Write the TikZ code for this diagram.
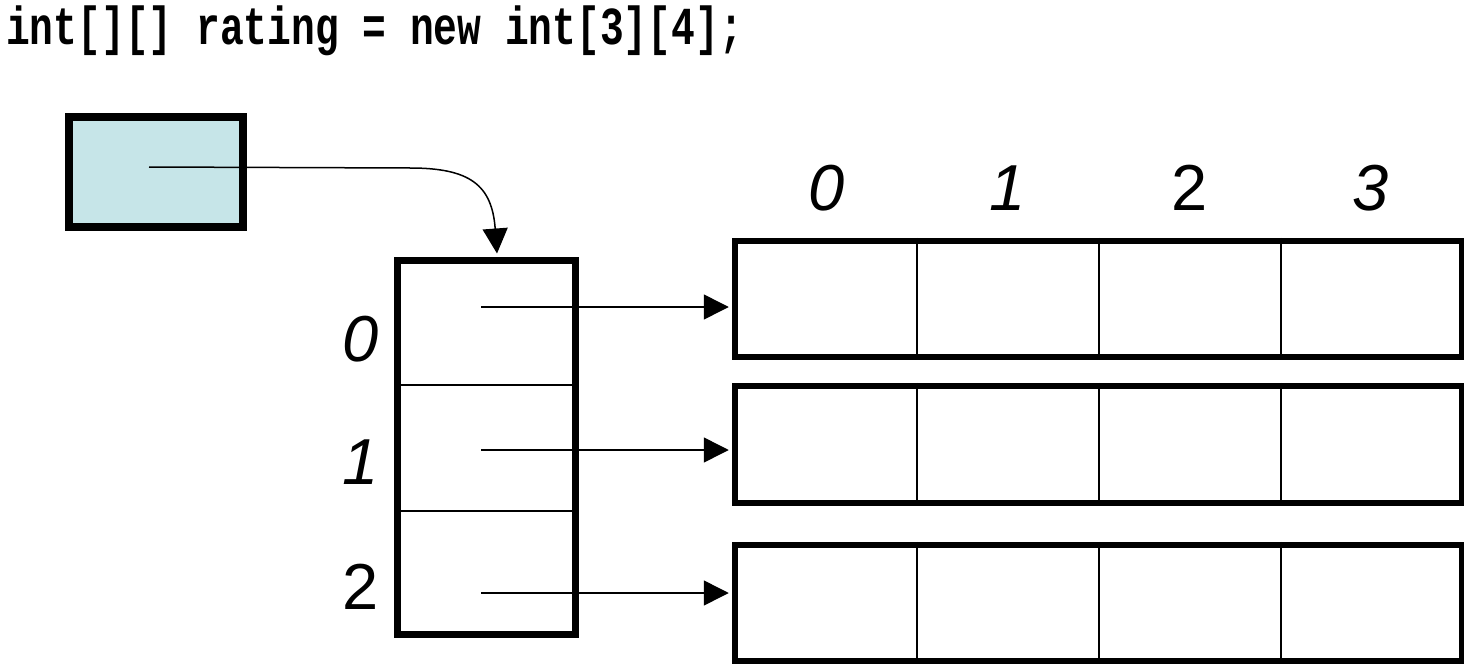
\documentclass[tikz,border=0pt]{standalone}
\usepackage{fontspec}
\newfontfamily\codefont{Liberation Mono}
\newfontfamily\lblfont{Liberation Sans}
\usetikzlibrary{arrows.meta}
\definecolor{ptrfill}{HTML}{C6E5E8}
\tikzset{
  ptrbox/.style={draw=black, line width=8pt, fill=ptrfill, inner sep=0pt, minimum width=174pt, minimum height=110pt},
  colbox/.style={draw=black, line width=7pt, fill=white, inner sep=0pt, minimum width=178pt, minimum height=374pt},
  rowbox/.style={draw=black, line width=6.5pt, fill=white, inner sep=0pt, minimum width=727.5pt},
  divider/.style={line width=2pt},
  ref/.style={line width=1.5pt, -{Triangle[length=25pt,width=25pt]}},
  idx/.style={font=\lblfont\fontsize{65}{65}\selectfont, inner sep=0pt},
  title/.style={font=\codefont\bfseries\fontsize{39.6}{40}\selectfont, inner sep=0pt}
}
\begin{document}
\begin{tikzpicture}[x=1pt, y=-1pt]
\useasboundingbox (0,0) rectangle (1464,666);
% title
\node[title, anchor=base west, yscale=1.35] (code) at (6,45) {int[][] rating = new int[3][4];};
% pointer variable
\node[ptrbox] (ptr) at (156,172) {};
% column array
\node[colbox] (col) at (486,447.5) {};
\draw[divider] (397,385) -- (575,385);
\draw[divider] (397,511) -- (575,511);
% row arrays
\node[rowbox, minimum height=116pt] (r0) at (1098.75,299) {};
\node[rowbox, minimum height=117pt] (r1) at (1098.75,444.5) {};
\node[rowbox, minimum height=116pt] (r2) at (1098.75,603) {};
\foreach \r in {r0,r1,r2}{
  \foreach \x in {917,1099,1281}{
    \draw[divider] (\r.north -| \x,0) -- (\r.south -| \x,0);
  }
}
% index labels
\node[idx, anchor=base] (c0) at (827,210) {\itshape 0};
\node[idx, anchor=base] (c1) at (1008,210) {\itshape 1};
\node[idx, anchor=base] (c2) at (1190,210) {2};
\node[idx, anchor=base] (c3) at (1371,210) {\itshape 3};
\node[idx, anchor=base] (l0) at (361,361) {\itshape 0};
\node[idx, anchor=base] (l1) at (361,484) {\itshape 1};
\node[idx, anchor=base] (l2) at (361,609) {2};
% references
\coordinate (pstart) at (149,167);
\coordinate (ptip) at ([xshift=11pt,yshift=3.5pt]col.north);
\draw[ref] (pstart) -- (410,168) .. controls (470,168) and (492,185) .. (ptip);
\coordinate (s0) at (481,307);
\coordinate (s1) at (481,450);
\coordinate (s2) at (481,593);
\draw[ref, shorten >=3pt] (s0) -- (s0 -| r0.west);
\draw[ref, shorten >=3pt] (s1) -- (s1 -| r1.west);
\draw[ref, shorten >=3pt] (s2) -- (s2 -| r2.west);
\end{tikzpicture}
\end{document}
